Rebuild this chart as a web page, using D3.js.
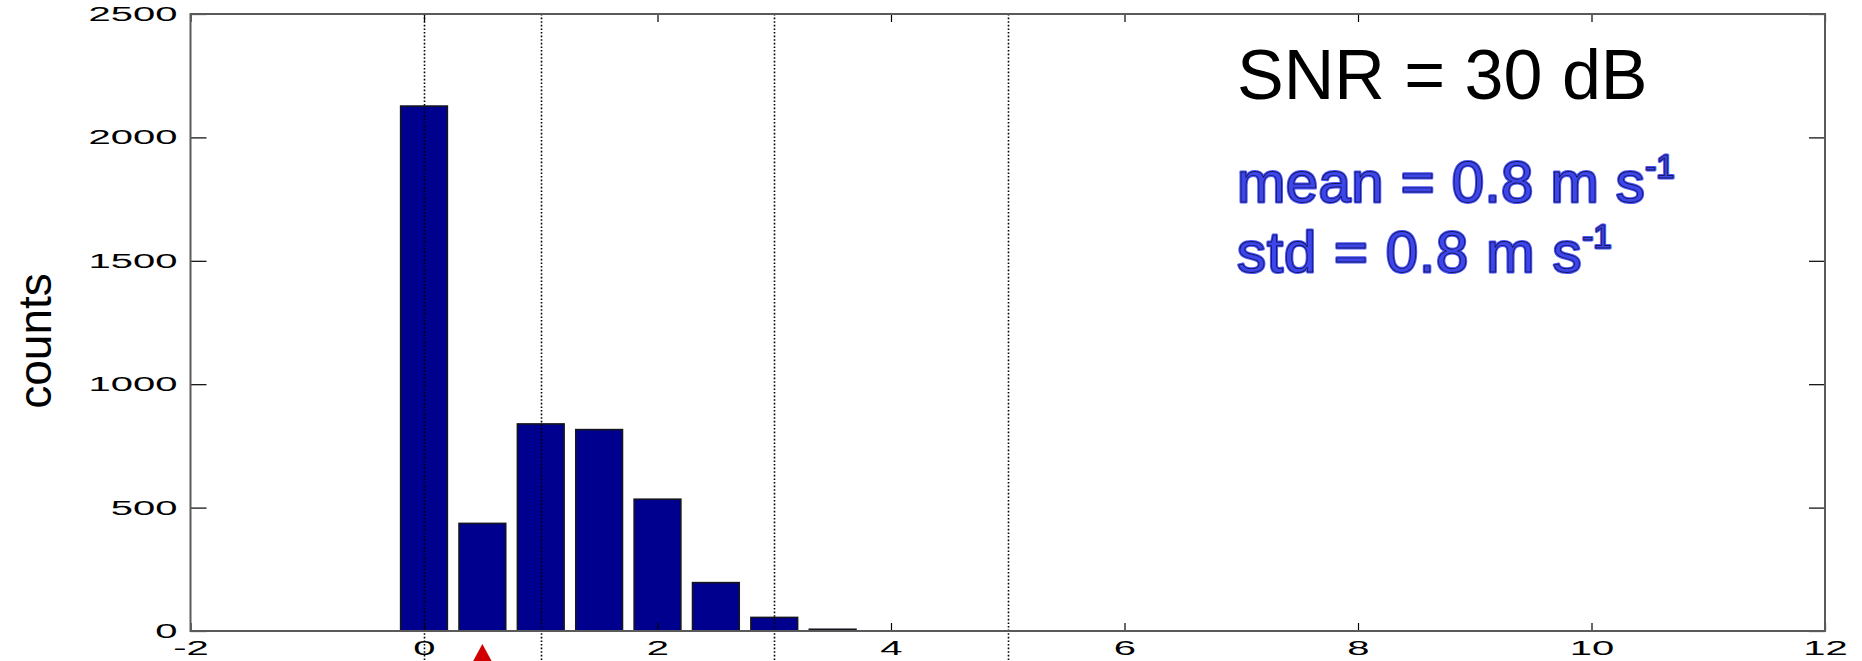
<!DOCTYPE html>
<html>
<head>
<meta charset="utf-8">
<script src="https://cdn.jsdelivr.net/npm/d3@7"></script>
<style>
  html, body { margin: 0; padding: 0; background: #fff; }
  svg { display: block; }
</style>
</head>
<body>
<svg id="chart" width="1862" height="661"></svg>
<script>
// Histogram of velocity error, bin width 0.5 m/s
const binCenters = [0, 0.5, 1, 1.5, 2, 2.5, 3, 3.5];
const counts = [2127, 436, 839, 816, 534, 196, 55, 7];
const binWidth = 0.5;

const xTicks = [-2, 0, 2, 4, 6, 8, 10, 12];
const yTicks = [0, 500, 1000, 1500, 2000, 2500];
const guideLines = [0, 1, 3, 5];
const markerX = [0.5];

const titleText = "SNR = 30 dB";
const statLines = [
  { label: "mean = 0.8 m s", sup: "-1" },
  { label: "std = 0.8 m s", sup: "-1" }
];
const yLabel = "counts";

const W = 1862, H = 661;
const plot = { left: 190.5, right: 1825, top: 14, bottom: 631 };

const svg = d3.select("#chart");

const x = d3.scaleLinear().domain([-2, 12]).range([plot.left, plot.right]);
const y = d3.scaleLinear().domain([0, 2500]).range([plot.bottom, plot.top]);

const font = "'Liberation Sans', Arial, Helvetica, sans-serif";
const plainNumber = d => String(d);

// bars
svg.append("g")
  .selectAll("rect")
  .data(binCenters.map((c, i) => ({ c, v: counts[i] })))
  .join("rect")
  .attr("x", d => x(d.c - binWidth * 0.4))
  .attr("width", d => x(d.c + binWidth * 0.4) - x(d.c - binWidth * 0.4))
  .attr("y", d => y(d.v))
  .attr("height", d => y(0) - y(d.v))
  .attr("fill", "#00008f")
  .attr("stroke", "#151520")
  .attr("stroke-width", 1.6);

// dotted reference lines
svg.append("g")
  .selectAll("line")
  .data(guideLines)
  .join("line")
  .attr("x1", d => Math.round(x(d)) + 0.5)
  .attr("x2", d => Math.round(x(d)) + 0.5)
  .attr("y1", plot.top)
  .attr("y2", H)
  .attr("stroke", "#000")
  .attr("stroke-width", 1.6)
  .attr("stroke-dasharray", "1.6,2");

// axes: ticks inward on all four sides
const yLeft = d3.axisLeft(y).tickValues(yTicks).tickFormat(plainNumber)
  .tickSizeInner(-16).tickSizeOuter(0).tickPadding(13);
const yRight = d3.axisRight(y).tickValues(yTicks).tickFormat("")
  .tickSizeInner(-16).tickSizeOuter(0);
const xBottom = d3.axisBottom(x).tickValues(xTicks).tickFormat(plainNumber)
  .tickSizeInner(-8).tickSizeOuter(0).tickPadding(10);
const xTop = d3.axisTop(x).tickValues(xTicks).tickFormat("")
  .tickSizeInner(-8).tickSizeOuter(0);

function styleAxis(g) {
  g.select(".domain").remove();
  g.selectAll(".tick line").attr("stroke", "#000").attr("stroke-width", 1.2);
  g.selectAll(".tick text")
    .attr("fill", "#000")
    .attr("font-family", font)
    .attr("font-size", 20);
}

const gl = svg.append("g").attr("transform", `translate(${plot.left},0)`).call(yLeft).call(styleAxis);
gl.selectAll(".tick text")
  .attr("x", -13 / 2)
  .attr("text-anchor", "end")
  .attr("transform", "scale(2,1)");

const gb = svg.append("g").attr("transform", `translate(0,${plot.bottom})`).call(xBottom).call(styleAxis);
gb.selectAll(".tick text")
  .attr("y", 10)
  .attr("text-anchor", "middle")
  .attr("transform", "scale(2,1)");

svg.append("g").attr("transform", `translate(${plot.right},0)`).call(yRight).call(styleAxis);
svg.append("g").attr("transform", `translate(0,${plot.top})`).call(xTop).call(styleAxis);

// plot box
svg.append("rect")
  .attr("x", plot.left)
  .attr("y", plot.top)
  .attr("width", plot.right - plot.left)
  .attr("height", plot.bottom - plot.top)
  .attr("fill", "none")
  .attr("stroke", "#5a5a5a")
  .attr("stroke-width", 2);

// mean marker below the axis
svg.append("g")
  .selectAll("path")
  .data(markerX)
  .join("path")
  .attr("d", d => {
    const cx = x(d);
    return `M${cx},644 L${cx + 13},668 L${cx - 13},668 Z`;
  })
  .attr("fill", "#d00000");

// y label
svg.append("text")
  .attr("transform", "translate(51,341) rotate(-90)")
  .attr("text-anchor", "middle")
  .attr("font-family", font)
  .attr("font-size", 46)
  .attr("fill", "#000")
  .text(yLabel);

// title annotation
svg.append("text")
  .attr("x", 1237)
  .attr("y", 99)
  .attr("font-family", font)
  .attr("font-size", 70)
  .attr("fill", "#000")
  .text(titleText);

// statistics annotation (blue with dark inner edge)
const statY = [202, 272];
const statSpacing = [0.5, 0.9];
statLines.forEach((s, i) => {
  [
    { stroke: "#4d58ff", sw: 3, fill: "#4d58ff" },
    { stroke: "#15155a", sw: 0.9, fill: "#3c46ec" }
  ].forEach(layer => {
    const t = svg.append("text")
      .attr("x", 1237)
      .attr("y", statY[i])
      .attr("font-family", font)
      .attr("font-size", 58)
      .attr("fill", layer.fill)
      .attr("stroke", layer.stroke)
      .attr("stroke-width", layer.sw)
      .attr("stroke-linejoin", "round");
    t.append("tspan")
      .attr("letter-spacing", statSpacing[i])
      .text(s.label);
    t.append("tspan")
      .attr("font-size", 33)
      .attr("dy", -24)
      .text(s.sup);
  });
});
</script>
</body>
</html>
